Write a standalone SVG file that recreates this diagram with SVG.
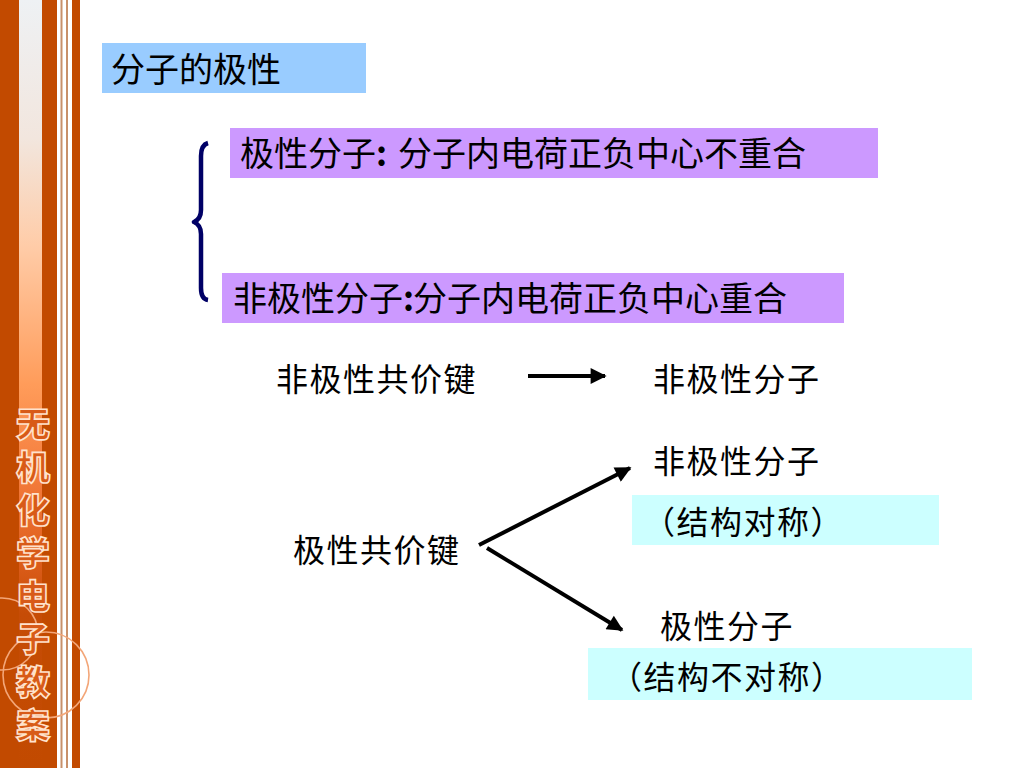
<svg xmlns="http://www.w3.org/2000/svg" width="1024" height="768" viewBox="0 0 1024 768">
<defs>
<style>
.t{font-family:"Noto Sans CJK SC","Liberation Sans",sans-serif;fill:#000;}
.box{font-size:34px;}
.row{font-size:32px;letter-spacing:1.5px;}
.side{font-family:"Noto Sans CJK SC",sans-serif;font-size:34px;font-weight:900;fill:#D85A18;stroke:#FFE2CC;stroke-width:1.6px;writing-mode:vertical-rl;letter-spacing:9px;}
.dark{fill:#C24A00;}
.thin{fill:#C8906A;}
.arr{stroke:#000;stroke-width:4;fill:none;marker-end:url(#ah);}
</style>
<linearGradient id="lg" x1="0" y1="0" x2="0" y2="1">
<stop offset="0" stop-color="#EEF1F4"/>
<stop offset="0.18" stop-color="#F2E6DE"/>
<stop offset="0.32" stop-color="#FFCCA8"/>
<stop offset="0.5" stop-color="#FF9C5A"/>
<stop offset="0.62" stop-color="#F47C3C"/>
<stop offset="0.72" stop-color="#E0601E"/>
<stop offset="0.8" stop-color="#C64C06"/>
<stop offset="1" stop-color="#C24A00"/>
</linearGradient>
<marker id="ah" viewBox="0 0 10 10" refX="9" refY="5" markerWidth="4.6" markerHeight="4" orient="auto" markerUnits="strokeWidth">
<path d="M0,0 L10,5 L0,10 z" fill="#000"/>
</marker>
</defs>
<rect width="1024" height="768" fill="#FFFFFF"/>
<g id="sidebar">
<rect class="dark" x="0" y="0" width="19" height="768"/>
<rect x="19" y="0" width="23" height="768" fill="url(#lg)"/>
<rect class="dark" x="42" y="0" width="15" height="768"/>
<rect class="thin" x="60.5" y="0" width="2" height="768"/>
<rect class="thin" x="66" y="0" width="2" height="768"/>
<rect class="dark" x="72" y="0" width="8" height="768"/>
<circle cx="46" cy="675" r="43" fill="none" stroke="#F3A678" stroke-width="1.6"/>
<circle cx="2" cy="634" r="36" fill="none" stroke="#F3A678" stroke-width="1.6"/>
<text class="side" x="33" y="407">无机化学电子教案</text>
</g>
<g id="title">
<rect x="102" y="43" width="264" height="50" fill="#99CCFF"/>
<text class="t box" x="111" y="82">分子的极性</text>
</g>
<g id="brace">
<path d="M208,143 Q201,145 201,156 L201,210 Q201,219 194,222 Q201,225 201,234 L201,288 Q201,299 208,300" fill="none" stroke="#000066" stroke-width="4.5" stroke-linejoin="round"/>
</g>
<g id="polar-def">
<rect x="230" y="128" width="648" height="50" fill="#CC99FF"/>
<text class="t box" x="240" y="166">极性分子<tspan font-weight="bold">:</tspan><tspan x="398">分子内电荷正负中心不重合</tspan></text>
</g>
<g id="nonpolar-def">
<rect x="222" y="273" width="622" height="50" fill="#CC99FF"/>
<text class="t box" x="233" y="311">非极性分子<tspan font-weight="bold" x="403">:</tspan><tspan x="413">分子内电荷正负中心重合</tspan></text>
</g>
<g id="nonpolar-bond">
<text class="t row" x="276" y="391">非极性共价键</text>
</g>
<g id="nonpolar-mol-1">
<text class="t row" x="653" y="391">非极性分子</text>
</g>
<g id="polar-bond">
<text class="t row" x="293" y="562">极性共价键</text>
</g>
<g id="nonpolar-mol-2">
<text class="t row" x="653" y="473">非极性分子</text>
<rect x="632" y="495" width="307" height="50" fill="#CCFFFF"/>
<text class="t row" x="643" y="534">（结构对称）</text>
</g>
<g id="polar-mol">
<text class="t row" x="660" y="638">极性分子</text>
<rect x="588" y="648" width="384" height="52" fill="#CCFFFF"/>
<text class="t row" x="610" y="689">（结构不对称）</text>
</g>
<g id="connectors">
<line class="arr" x1="528" y1="376" x2="605" y2="376"/>
<line class="arr" x1="479" y1="545" x2="630" y2="468"/>
<line class="arr" x1="487" y1="548" x2="622" y2="630"/>
</g>
</svg>
